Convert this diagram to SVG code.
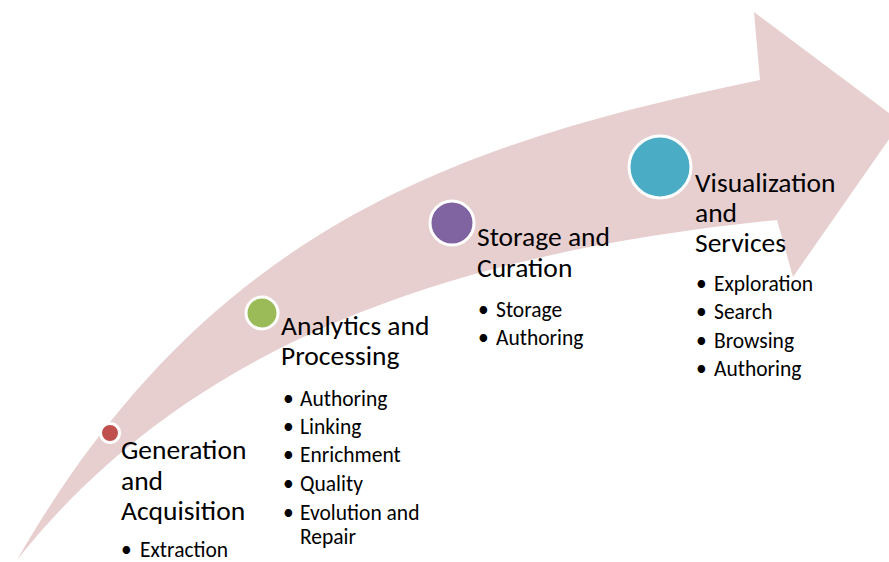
<svg xmlns="http://www.w3.org/2000/svg" width="889" height="562" viewBox="0 0 889 562">
  <style>
    .title { font-family: Carlito, Lato, "Liberation Sans", sans-serif; font-size: 27.5px; fill: #000; }
    .item { font-family: Carlito, Lato, "Liberation Sans", sans-serif; font-size: 21.5px; fill: #000; }
    .dot { stroke: #fff; stroke-width: 3; }
  </style>
  <rect width="889" height="562" fill="#fff"/>

  <!-- curved sweeping arrow -->
  <g id="arrow">
    <path fill="#E7CFD0"
          d="M17,560 C206,230 452,144 760,80 L754,12 L901,122 L793,277 L777,220 C459,252 192,339.5 17,560 Z"/>
  </g>

  <g id="generation">
    <circle class="dot" cx="110" cy="433" r="9.5" fill="#C0504D"/>
    <text class="title" x="121" y="459">Generation</text>
    <text class="title" x="121" y="490">and</text>
    <text class="title" x="121" y="520">Acquisition</text>
    <text class="item" x="121" y="557">•</text>
    <text class="item" x="140" y="557">Extraction</text>
  </g>

  <g id="analytics">
    <circle class="dot" cx="262" cy="313" r="16" fill="#9BBB59"/>
    <text class="title" x="281" y="335">Analytics and</text>
    <text class="title" x="281" y="365">Processing</text>
    <text class="item" x="283" y="406">•</text>
    <text class="item" x="300" y="406">Authoring</text>
    <text class="item" x="283" y="434">•</text>
    <text class="item" x="300" y="434">Linking</text>
    <text class="item" x="283" y="462">•</text>
    <text class="item" x="300" y="462">Enrichment</text>
    <text class="item" x="283" y="491">•</text>
    <text class="item" x="300" y="491">Quality</text>
    <text class="item" x="283" y="520">•</text>
    <text class="item" x="300" y="520">Evolution and</text>
    <text class="item" x="300" y="544">Repair</text>
  </g>

  <g id="storage">
    <circle class="dot" cx="452" cy="223" r="22" fill="#8064A2"/>
    <text class="title" x="477" y="246">Storage and</text>
    <text class="title" x="477" y="277">Curation</text>
    <text class="item" x="478" y="317">•</text>
    <text class="item" x="496" y="317">Storage</text>
    <text class="item" x="478" y="345">•</text>
    <text class="item" x="496" y="345">Authoring</text>
  </g>

  <g id="visualization">
    <circle class="dot" cx="660" cy="167" r="31" fill="#4BACC6"/>
    <text class="title" x="695" y="192">Visualization</text>
    <text class="title" x="695" y="222">and</text>
    <text class="title" x="695" y="252">Services</text>
    <text class="item" x="696" y="291">•</text>
    <text class="item" x="714" y="291">Exploration</text>
    <text class="item" x="696" y="319">•</text>
    <text class="item" x="714" y="319">Search</text>
    <text class="item" x="696" y="348">•</text>
    <text class="item" x="714" y="348">Browsing</text>
    <text class="item" x="696" y="376">•</text>
    <text class="item" x="714" y="376">Authoring</text>
  </g>
</svg>
